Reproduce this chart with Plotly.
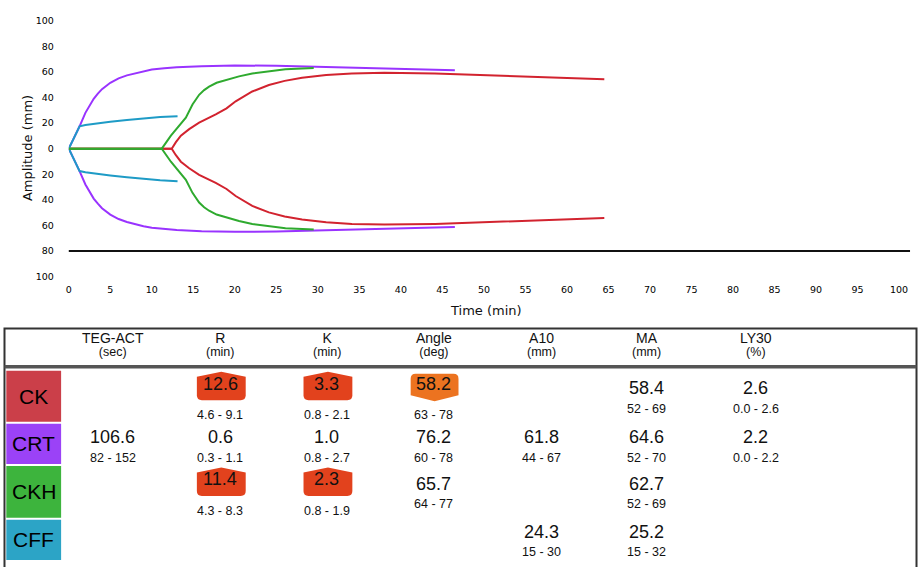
import plotly.graph_objects as go

# ---------------- curve data (time in min, amplitude in mm) ----------------
ck_t = [0, 12.4, 12.9, 13.5, 14.5, 15.7, 17.7, 19.0, 20.1, 22.1, 24.1, 26.0, 28.1, 31.0, 34.1, 38, 44.1, 52.1, 58, 64.5]
ck_a = [0, 0, 5.1, 10.2, 15.3, 20.4, 26.8, 31.5, 37.0, 44.7, 49.8, 53.0, 55.4, 57.5, 58.8, 59.3, 58.8, 56.9, 55.6, 54.2]

crt_t = [0, 0.5, 1.3, 2.0, 2.5, 3.0, 3.5, 4.0, 5.0, 6.0, 7.0, 8.0, 9.0, 10.0, 11.5, 13.0, 16.0, 20.0, 25.0, 30.0, 35.0, 40.0, 46.5]
crt_a = [0, 6.5, 17.5, 28, 34, 39, 43, 46.5, 51.5, 55, 57.3, 59, 60.6, 61.8, 62.8, 63.6, 64.5, 65.0, 64.8, 64.1, 63.3, 62.4, 61.3]

cff_t = [0, 0.5, 1.3, 2.0, 3.0, 5.0, 7.0, 9.0, 11.0, 13.1]
cff_a = [0, 6.5, 17.5, 18.5, 19.5, 21.0, 22.4, 23.7, 24.7, 25.4]

ckh_t = [0, 11.2, 12.3, 13.0, 13.5, 14.1, 14.9, 15.7, 16.3, 16.9, 17.8, 18.9, 20.5, 22.1, 24.0, 26.1, 29.5]
ckh_a = [0, 0, 10.2, 15.5, 19.2, 24.3, 34.5, 42.1, 45.8, 48.5, 51.5, 53.6, 56.5, 58.8, 60.6, 62.1, 63.1]

# ---------------- table data ----------------
samples = ["CK", "CRT", "CKH", "CFF"]
params = ["TEG-ACT", "R", "K", "Angle", "A10", "MA", "LY30"]
units = ["(sec)", "(min)", "(min)", "(deg)", "(mm)", "(mm)", "(%)"]

vals_ck = [None, 12.6, 3.3, 58.2, None, 58.4, 2.6]
vals_crt = [106.6, 0.6, 1.0, 76.2, 61.8, 64.6, 2.2]
vals_ckh = [None, 11.4, 2.3, 65.7, None, 62.7, None]
vals_cff = [None, None, None, None, 24.3, 25.2, None]

rng_ck = [None, "4.6 - 9.1", "0.8 - 2.1", "63 - 78", None, "52 - 69", "0.0 - 2.6"]
rng_crt = ["82 - 152", "0.3 - 1.1", "0.8 - 2.7", "60 - 78", "44 - 67", "52 - 70", "0.0 - 2.2"]
rng_ckh = [None, "4.3 - 8.3", "0.8 - 1.9", "64 - 77", None, "52 - 69", None]
rng_cff = [None, None, None, None, "15 - 30", "15 - 32", None]

# ---------------- styles ----------------
W, H = 918, 567
line_colors = {"CK": "#D2232F", "CRT": "#9933FF", "CFF": "#1E9BC6", "CKH": "#2FAA2F"}
box_colors = {"CK": "#CB3F49", "CRT": "#9B42F7", "CKH": "#3DB43D", "CFF": "#2CA4C6"}
HIGH_COLOR = "#E2421D"
LOW_COLOR = "#EC7320"
TFONT = "Liberation Sans, Arial, sans-serif"
CFONT = "DejaVu Sans, sans-serif"


def px(x):
    return x / W


def py(y):
    return 1 - y / H


fig = go.Figure()

series = [("CK", ck_t, ck_a), ("CRT", crt_t, crt_a), ("CFF", cff_t, cff_a), ("CKH", ckh_t, ckh_a)]
for name, t, a in series:
    for sign in (1, -1):
        fig.add_trace(go.Scatter(
            x=t, y=[sign * v for v in a], mode="lines", name=name,
            line=dict(color=line_colors[name], width=2),
            showlegend=False, hoverinfo="skip"))

ticks = list(range(-100, 101, 20))
fig.update_layout(
    width=W, height=H, autosize=False,
    margin=dict(l=0, r=0, t=0, b=0, pad=0),
    paper_bgcolor="white", plot_bgcolor="white",
    xaxis=dict(domain=[px(66), px(910)], range=[0, (910 - 66) / 8.33],
               tickvals=list(range(0, 101, 5)), showgrid=False, zeroline=False,
               showline=False, ticks="", ticklabelstandoff=6,
               tickfont=dict(family=CFONT, size=9.5, color="#000")),
    yaxis=dict(domain=[py(276), py(15)], range=[-100, 100],
               tickvals=ticks, ticktext=[str(abs(v)) for v in ticks],
               showgrid=False, zeroline=False, showline=False, ticks="",
               ticklabelstandoff=14,
               tickfont=dict(family=CFONT, size=9.5, color="#000")),
)

shapes = []
annotations = []

# black line at 80 (below baseline)
shapes.append(dict(type="line", xref="x domain", yref="y", x0=0, x1=1, y0=-80, y1=-80,
                   line=dict(color="#111", width=2)))

annotations.append(dict(text="Amplitude (mm)", xref="paper", yref="paper", x=px(24), y=py(145),
                        textangle=-90, showarrow=False, xanchor="center", yanchor="middle",
                        font=dict(family=CFONT, size=13, color="#111")))
annotations.append(dict(text="Time (min)", xref="paper", yref="paper", x=px(485), y=py(311),
                        showarrow=False, xanchor="center", yanchor="middle",
                        font=dict(family=CFONT, size=13, color="#111")))

# ---------------- table frame ----------------
shapes.append(dict(type="rect", xref="paper", yref="paper", x0=px(1.5), x1=px(916.5),
                   y0=py(580), y1=py(329), line=dict(color="#333", width=2)))
shapes.append(dict(type="line", xref="paper", yref="paper", x0=px(1.5), x1=px(916.5),
                   y0=py(368), y1=py(368), line=dict(color="#555", width=3.5)))

col_x = [110, 218, 325, 432, 540, 646, 755]
for cx, p, u in zip(col_x, params, units):
    annotations.append(dict(
        text=f"<span style='font-size:14px'>{p}</span><br><span style='font-size:12.5px'>{u}</span>",
        xref="paper", yref="paper", x=px(cx), y=py(345),
        showarrow=False, xanchor="center", yanchor="middle",
        font=dict(family=TFONT, size=10, color="#111")))

row_boxes = [(372, 424), (426, 467), (469, 522), (524, 565)]
row_text_y = [(390, 410.5), (440, 460.5), (487.7, 508.3), (536.7, 557.3)]
all_vals = [vals_ck, vals_crt, vals_ckh, vals_cff]
all_rngs = [rng_ck, rng_crt, rng_ckh, rng_cff]


def up_badge(xc, v):
    x0, x1 = xc - 24.5, xc + 24.5
    peak, sh, bot, r = v - 12, v - 7, v + 17, 5
    pts = f"M {px(x0)},{py(sh)} L {px(xc)},{py(peak)} L {px(x1)},{py(sh)} L {px(x1)},{py(bot - r)} " \
          f"Q {px(x1)},{py(bot)} {px(x1 - r)},{py(bot)} L {px(x0 + r)},{py(bot)} " \
          f"Q {px(x0)},{py(bot)} {px(x0)},{py(bot - r)} Z"
    return pts


def down_badge(xc, v):
    x0, x1 = xc - 24, xc + 24
    top, cor, pt, r = v - 10, v + 12, v + 18, 5
    pts = f"M {px(x0)},{py(top + r)} Q {px(x0)},{py(top)} {px(x0 + r)},{py(top)} " \
          f"L {px(x1 - r)},{py(top)} Q {px(x1)},{py(top)} {px(x1)},{py(top + r)} " \
          f"L {px(x1)},{py(cor)} L {px(xc)},{py(pt)} L {px(x0)},{py(cor)} Z"
    return pts


for i, s in enumerate(samples):
    y0b, y1b = row_boxes[i]
    shapes.append(dict(type="rect", xref="paper", yref="paper", x0=px(3.3), x1=px(58.3),
                       y0=py(y1b), y1=py(y0b), fillcolor=box_colors[s], line=dict(width=0)))
    annotations.append(dict(text=s, xref="paper", yref="paper", x=px(31), y=py((y0b + y1b) / 2),
                            showarrow=False, xanchor="center", yanchor="middle",
                            font=dict(family=TFONT, size=21, color="#000")))
    vy, ry = row_text_y[i]
    for j, cx in enumerate(col_x):
        v = all_vals[i][j]
        rg = all_rngs[i][j]
        if v is None:
            continue
        lo, hi = [float(z) for z in rg.split(" - ")]
        flag = "high" if v > hi else ("low" if v < lo else None)
        if flag:
            tv, tr = vy - 5, ry + 6.5
            path = up_badge(cx + 1, tv) if flag == "high" else down_badge(cx + 1, tv)
            shapes.append(dict(type="path", xref="paper", yref="paper", path=path,
                               fillcolor=HIGH_COLOR if flag == "high" else LOW_COLOR,
                               line=dict(width=0)))
        else:
            tv, tr = vy, ry
        annotations.append(dict(text=f"{v:.1f}", xref="paper", yref="paper", x=px(cx), y=py(tv),
                                showarrow=False, xanchor="center", yanchor="middle",
                                font=dict(family=TFONT, size=18, color="#111")))
        annotations.append(dict(text=rg, xref="paper", yref="paper", x=px(cx), y=py(tr),
                                showarrow=False, xanchor="center", yanchor="middle",
                                font=dict(family=TFONT, size=12.5, color="#111")))

fig.update_layout(shapes=shapes, annotations=annotations)
fig.write_html("out.html", config={"displayModeBar": False},
               post_script="document.body.style.margin='0';document.body.style.padding='0';")
